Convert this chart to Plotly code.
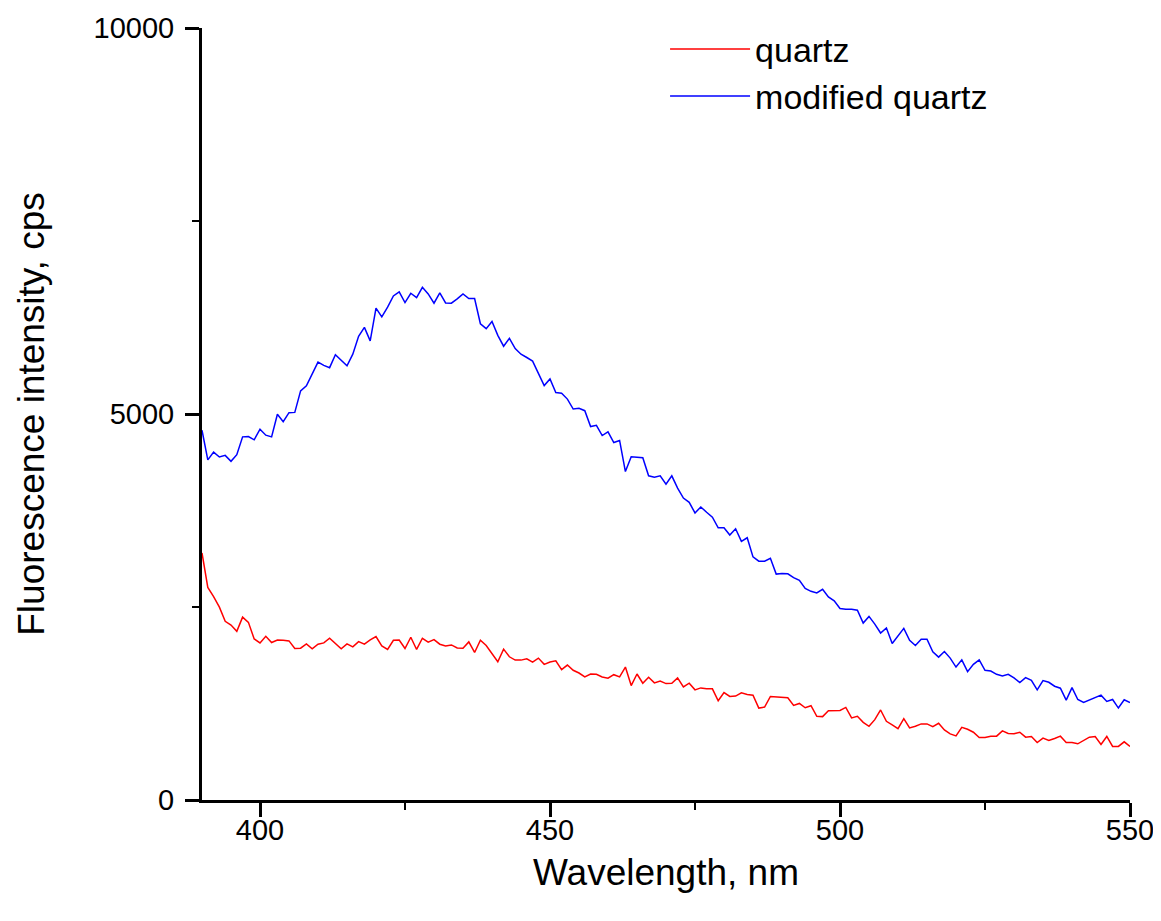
import plotly.graph_objects as go

wavelength = list(range(390, 551))

quartz = [
    3200, 2754, 2635, 2498, 2314, 2266, 2185, 2369, 2301, 2086,
    2035, 2121, 2040, 2073, 2069, 2061, 1962, 1967, 2022, 1958,
    2018, 2035, 2095, 2027, 1958, 2022, 1983, 2052, 2018, 2073,
    2117, 1996, 1950, 2069, 2073, 1962, 2108, 1950, 2095, 2044,
    2078, 2018, 1996, 2009, 1970, 1967, 2048, 1911, 2069, 2001,
    1898, 1790, 1954, 1855, 1812, 1812, 1829, 1787, 1838, 1757,
    1787, 1803, 1688, 1748, 1680, 1645, 1594, 1632, 1628, 1594,
    1577, 1623, 1594, 1722, 1482, 1632, 1513, 1590, 1517, 1542,
    1508, 1513, 1581, 1465, 1513, 1427, 1452, 1440, 1440, 1285,
    1392, 1341, 1346, 1388, 1367, 1358, 1191, 1204, 1341, 1337,
    1337, 1324, 1225, 1251, 1195, 1221, 1084, 1080, 1157, 1157,
    1160, 1199, 1063, 1084, 1006, 955, 1041, 1166, 1019, 973,
    925, 1054, 934, 955, 986, 986, 951, 994, 908, 857,
    831, 942, 917, 878, 810, 810, 827, 827, 895, 861,
    857, 878, 814, 823, 745, 801, 771, 797, 827, 745,
    745, 728, 767, 814, 823, 720, 823, 694, 694, 754,
    694,
]

modified_quartz = [
    4790, 4405, 4507, 4443, 4464, 4387, 4473, 4704, 4708, 4666,
    4803, 4726, 4704, 4996, 4901, 5017, 5021, 5299, 5364, 5514,
    5672, 5630, 5600, 5767, 5694, 5625, 5775, 6006, 6122, 5947,
    6371, 6259, 6384, 6529, 6581, 6443, 6564, 6508, 6641, 6555,
    6435, 6568, 6439, 6435, 6491, 6555, 6495, 6495, 6169, 6105,
    6199, 6019, 5878, 5981, 5848, 5775, 5732, 5685, 5527, 5368,
    5454, 5278, 5270, 5193, 5064, 5073, 5043, 4837, 4854, 4721,
    4768, 4631, 4657, 4254, 4447, 4438, 4434, 4199, 4181, 4199,
    4091, 4199, 4040, 3911, 3856, 3718, 3796, 3727, 3663, 3526,
    3526, 3432, 3513, 3350, 3397, 3149, 3093, 3093, 3132, 2926,
    2935, 2930, 2880, 2845, 2742, 2703, 2682, 2729, 2631, 2579,
    2481, 2472, 2472, 2459, 2292, 2378, 2279, 2163, 2228, 2027,
    2125, 2224, 2069, 2001, 2082, 2082, 1919, 1851, 1924, 1838,
    1722, 1816, 1662, 1757, 1816, 1680, 1671, 1628, 1607, 1628,
    1581, 1521, 1585, 1551, 1427, 1546, 1525, 1474, 1448, 1294,
    1456, 1302, 1263, 1298, 1328, 1358, 1276, 1302, 1191, 1298,
    1263,
]

series_names = ["quartz", "modified quartz"]

x_ticks = [400, 450, 500, 550]
y_ticks = [0, 5000, 10000]

FONT = "Liberation Sans, Arial, sans-serif"

fig = go.Figure()
fig.add_trace(go.Scatter(x=wavelength, y=quartz, mode="lines", name=series_names[0],
                         line=dict(color="#ff0000", width=1.5)))
fig.add_trace(go.Scatter(x=wavelength, y=modified_quartz, mode="lines", name=series_names[1],
                         line=dict(color="#0000ff", width=1.5)))

axis_common = dict(
    showgrid=False, zeroline=False, showline=True, linecolor="black", linewidth=3,
    ticks="outside", tickcolor="black", tickwidth=3, ticklen=14,
    tickfont=dict(family=FONT, size=29, color="black"),
    mirror=False, automargin=False,
)

fig.update_xaxes(
    **axis_common,
    range=[390, 550], tickvals=x_ticks, ticktext=[str(v) for v in x_ticks],
    minor=dict(ticks="outside", ticklen=7, tickwidth=2, tickcolor="black", dtick=25, tick0=400),
    title=dict(text="Wavelength, nm", font=dict(family=FONT, size=37, color="black"), standoff=15),
    ticklabelstandoff=-12,
)
fig.update_yaxes(
    **axis_common,
    range=[0, 10000], tickvals=y_ticks, ticktext=[str(v) for v in y_ticks],
    minor=dict(ticks="outside", ticklen=7, tickwidth=2, tickcolor="black", dtick=2500, tick0=0),
    title=dict(text="Fluorescence intensity, cps", font=dict(family=FONT, size=37, color="black"), standoff=38),
    ticklabelstandoff=5,
)

fig.update_layout(
    width=1153, height=913,
    margin=dict(l=194, r=31, t=14, b=121),
    paper_bgcolor="white", plot_bgcolor="white",
    showlegend=True,
    legend=dict(x=0.499, y=1.01, xanchor="left", yanchor="top",
                font=dict(family=FONT, size=34, color="black"),
                bgcolor="rgba(0,0,0,0)", itemwidth=80, tracegroupgap=0),
    font=dict(family=FONT, color="black"),
)

fig.write_html("out.html")
